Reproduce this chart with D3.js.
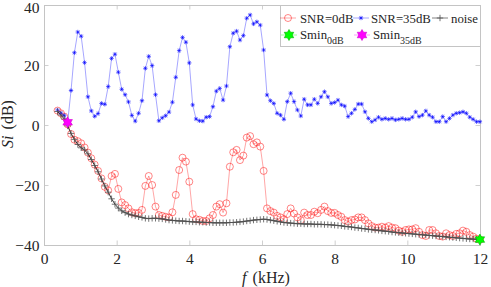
<!DOCTYPE html>
<html><head><meta charset="utf-8">
<script src="https://cdn.jsdelivr.net/npm/d3@7"></script>
<style>
body{margin:0;background:#fff}
svg{display:block}
text{font-family:"Liberation Serif","DejaVu Serif",serif;fill:#262626}
</style>
</head><body>
<svg id="c" width="491" height="287"></svg>
<script>
// frequency bins (kHz)
const freq = [0.372,0.465,0.558,0.651,0.744,0.837,0.930,1.023,1.116,1.209,1.302,1.395,1.488,1.581,1.674,1.767,1.860,1.953,2.046,2.139,2.232,2.325,2.418,2.511,2.604,2.697,2.790,2.883,2.976,3.069,3.162,3.255,3.348,3.441,3.534,3.627,3.720,3.813,3.906,3.999,4.092,4.185,4.278,4.371,4.464,4.557,4.650,4.743,4.836,4.929,5.022,5.115,5.208,5.301,5.394,5.487,5.580,5.673,5.766,5.859,5.952,6.045,6.138,6.231,6.324,6.417,6.510,6.603,6.696,6.789,6.882,6.975,7.068,7.161,7.254,7.347,7.440,7.533,7.626,7.719,7.812,7.905,7.998,8.091,8.184,8.277,8.370,8.463,8.556,8.649,8.742,8.835,8.928,9.021,9.114,9.207,9.300,9.393,9.486,9.579,9.672,9.765,9.858,9.951,10.044,10.137,10.230,10.323,10.416,10.509,10.602,10.695,10.788,10.881,10.974,11.067,11.160,11.253,11.346,11.439,11.532,11.625,11.718,11.811,11.904,11.997];

const snr0 = [4.8,3.9,2.8,0.2,-3.0,-4.9,-5.4,-6.1,-7.5,-9.2,-11.1,-13.2,-15.3,-17.8,-20.6,-21.8,-17.0,-16.3,-21.3,-25.8,-26.7,-27.8,-29.1,-29.4,-29.3,-28.3,-20.3,-17.0,-20.0,-27.2,-30.0,-30.3,-30.6,-30.8,-29.1,-23.3,-15.0,-10.9,-12.2,-18.9,-29.7,-31.4,-31.6,-32.0,-32.0,-31.1,-30.0,-27.2,-26.4,-29.2,-26.1,-13.9,-9.1,-8.3,-11.7,-10.2,-4.2,-3.7,-6.4,-5.8,-7.2,-15.3,
-27.8,-28.7,-29.2,-30.3,-30.8,-31.4,-29.7,-27.8,-29.5,-30.8,-31.7,-29.2,-30.0,-30.0,-28.9,-29.4,-28.3,-27.2,-28.7,-29.3,-29.3,-30.0,-30.6,-31.7,-32.2,-31.7,-31.5,-30.8,-30.8,-31.7,-32.8,-33.7,-34.2,-34.2,-33.9,-34.2,-33.7,-34.2,-34.4,-35.2,-35.6,-35.0,-34.8,-34.8,-34.4,-35.6,-36.7,-37.0,-35.0,-35.0,-36.1,-37.0,-37.2,-36.1,-36.7,-37.0,-36.3,-36.1,-35.2,-35.6,-36.7,-37.2,-37.9,-38.2];

const snr35 = [5.0,4.0,3.2,0.9,11.5,24.1,31.0,29.6,20.8,9.4,4.7,2.9,3.8,7.2,6.9,12.8,22.2,23.6,17.6,11.9,10.1,7.7,3.2,1.3,3.9,8.1,18.9,22.9,19.8,10.1,1.4,2.4,3.1,4.3,7.6,15.9,24.8,29.2,27.6,20.7,6.7,2.0,1.4,1.3,2.6,2.8,6.1,11.3,12.2,8.3,13.0,26.1,30.6,31.3,28.3,29.8,35.6,36.7,33.7,34.4,33.3,25.0,
10.0,8.1,7.2,3.9,3.3,1.9,7.8,10.6,7.8,5.0,3.0,8.6,6.7,6.7,8.6,7.2,9.4,11.1,9.4,7.2,7.5,8.3,6.7,6.3,2.8,3.9,5.2,7.0,7.0,4.4,2.2,1.1,1.7,2.6,1.9,2.2,1.9,2.2,1.7,1.9,2.2,1.9,1.9,2.6,4.4,2.8,3.3,4.7,3.3,2.6,1.1,1.1,2.8,1.1,2.2,3.3,3.9,4.1,4.4,3.9,2.6,1.9,1.1,1.1];

const noise = [4.5,3.3,2.0,-0.3,-2.8,-4.8,-6.5,-7.6,-8.3,-9.6,-11.5,-13.5,-15.6,-18.0,-20.3,-22.4,-24.6,-26.4,-27.7,-28.6,-29.2,-29.7,-30.0,-30.3,-30.6,-30.8,-31.1,-31.2,-31.1,-31.1,-31.2,-31.3,-31.5,-31.7,-31.8,-31.9,-32.0,-32.0,-32.1,-32.2,
-32.3,-32.3,-32.4,-32.4,-32.5,-32.5,-32.6,-32.6,-32.6,-32.6,-32.6,-32.5,-32.5,-32.4,-32.3,-32.2,-32.0,-31.9,-31.7,-31.6,-31.5,-31.4,-31.5,-31.7,-31.9,-32.1,-32.3,-32.5,-32.6,-32.7,-32.8,-32.9,-32.9,-33.0,-33.0,-33.0,-33.1,-33.1,-33.1,-33.2,-33.2,-33.3,-33.4,-33.5,-33.6,-33.8,-33.9,-34.0,-34.2,-34.3,-34.5,-34.6,-34.8,-34.9,-35.0,-35.1,-35.3,-35.4,-35.5,-35.7,-35.8,-35.9,-36.0,-36.1,-36.2,-36.3,-36.4,-36.5,-36.6,-36.7,-36.8,-36.9,-37.0,-37.1,-37.2,-37.3,-37.4,-37.5,-37.6,-37.7,-37.8,-37.9,-38.0,-38.0,-38.1,-38.3];

const smin0 = [11.997, -38.2];
const smin35 = [0.651, 0.9];

const xTicks = [0,2,4,6,8,10,12];
const yTicks = [-40,-20,0,20,40];

const svg = d3.select('#c');
const L=44, R=480, T=5, B=245;
const x = d3.scaleLinear().domain([0,12]).range([L,R]);
const y = d3.scaleLinear().domain([-40,40]).range([B,T]);
const boxColor = '#c4c4c4';
const serif = '"Liberation Serif","DejaVu Serif",serif';

// axes
const styleAxis = g => {
  g.attr('font-family', serif);
  g.select('.domain').remove();
  g.selectAll('.tick line').attr('stroke',boxColor).attr('stroke-width',0.8);
  g.selectAll('.tick text').attr('fill','#262626').style('font-size','15.5px').style('font-family',serif);
};
svg.append('g').attr('transform',`translate(0,${B})`)
  .call(d3.axisBottom(x).tickValues(xTicks).tickSizeInner(-4.5).tickSizeOuter(0).tickPadding(8)).call(styleAxis);
svg.append('g').attr('transform',`translate(0,${T})`)
  .call(d3.axisTop(x).tickValues(xTicks).tickSizeInner(-4.5).tickSizeOuter(0).tickFormat('')).call(styleAxis);
const yAx = svg.append('g').attr('transform',`translate(${L},0)`)
  .call(d3.axisLeft(y).tickValues(yTicks).tickSizeInner(-4.5).tickSizeOuter(0).tickPadding(4.5)).call(styleAxis);
yAx.selectAll('.tick text').attr('dy', d => d === 40 ? '0.5em' : '0.36em');
svg.append('g').attr('transform',`translate(${R},0)`)
  .call(d3.axisRight(y).tickValues(yTicks).tickSizeInner(-4.5).tickSizeOuter(0).tickFormat('')).call(styleAxis);
svg.append('rect').attr('x',L+0.5).attr('y',T+0.5).attr('width',R-L).attr('height',B-T)
  .attr('fill','none').attr('stroke',boxColor).attr('stroke-width',1);

// marker paths
const starPath = s => { const a=s*0.72; return `M${-s},0H${s}M0,${-s}V${s}M${-a},${-a}L${a},${a}M${-a},${a}L${a},${-a}`; };
const plusPath = s => `M${-s},0H${s}M0,${-s}V${s}`;
const hexPath = Rr => { const p=[]; for(let i=0;i<12;i++){ const r=i%2===0?Rr:Rr/Math.sqrt(3); const a=-Math.PI/2+i*Math.PI/6; p.push([(r*Math.cos(a)).toFixed(2),(r*Math.sin(a)).toFixed(2)]);} return 'M'+p.map(q=>q.join(',')).join('L')+'Z'; };

const line = d3.line().x(d=>x(d[0])).y(d=>y(d[1]));
const pts = vals => freq.map((f,i)=>[f,vals[i]]);

// SNR=0dB
const g0 = svg.append('g');
g0.append('path').attr('d',line(pts(snr0))).attr('fill','none').attr('stroke','#ff0000').attr('stroke-opacity',0.35).attr('stroke-width',1);
g0.selectAll('circle').data(pts(snr0)).join('circle').attr('cx',d=>x(d[0])).attr('cy',d=>y(d[1])).attr('r',3.5)
  .attr('fill','none').attr('stroke','#ff0000').attr('stroke-opacity',0.6).attr('stroke-width',0.8);

// SNR=35dB
const g35 = svg.append('g');
g35.append('path').attr('d',line(pts(snr35))).attr('fill','none').attr('stroke','#0000ff').attr('stroke-opacity',0.35).attr('stroke-width',1);
g35.selectAll('path.m').data(pts(snr35)).join('path').attr('class','m').attr('d',starPath(2.2))
  .attr('transform',d=>`translate(${x(d[0])},${y(d[1])})`).attr('stroke','#0000ff').attr('stroke-opacity',0.75).attr('stroke-width',0.8).attr('fill','none');

// noise
const gn = svg.append('g');
gn.append('path').attr('d',line(pts(noise))).attr('fill','none').attr('stroke','#303030').attr('stroke-width',1);
gn.selectAll('path.m').data(pts(noise)).join('path').attr('class','m').attr('d',plusPath(3.2))
  .attr('transform',d=>`translate(${x(d[0])},${y(d[1])})`).attr('stroke','#505050').attr('stroke-width',0.8).attr('fill','none');

// minima
svg.append('path').attr('d',hexPath(5.5)).attr('transform',`translate(${x(smin0[0])},${y(smin0[1])})`)
  .attr('fill','#00ff00').attr('stroke','#00b400').attr('stroke-width',0.6);
svg.append('path').attr('d',hexPath(5.5)).attr('transform',`translate(${x(smin35[0])},${y(smin35[1])})`)
  .attr('fill','#ff00ff').attr('stroke','#d000d0').attr('stroke-width',0.6);

// legend
const lg = svg.append('g');
lg.append('rect').attr('x',280.5).attr('y',5.5).attr('width',200).attr('height',41).attr('fill','#fff').attr('stroke',boxColor).attr('stroke-width',1);
const fs = '12.8px';
function sample(cx, cy, color, op){ lg.append('line').attr('x1',cx-8).attr('x2',cx+8).attr('y1',cy).attr('y2',cy).attr('stroke',color).attr('stroke-opacity',op).attr('stroke-width',1); }
// row 1
sample(288,18,'#ff0000',0.35);
lg.append('circle').attr('cx',288).attr('cy',18).attr('r',3.5).attr('fill','none').attr('stroke','#ff0000').attr('stroke-opacity',0.6).attr('stroke-width',0.8);
lg.append('text').attr('x',300).attr('y',22.5).style('font-size',fs).text('SNR=0dB');
sample(361,18,'#0000ff',0.35);
lg.append('path').attr('d',starPath(2.2)).attr('transform','translate(361,18)').attr('stroke','#0000ff').attr('stroke-opacity',0.75).attr('stroke-width',0.8);
lg.append('text').attr('x',371).attr('y',22.5).style('font-size',fs).text('SNR=35dB');
sample(440,18,'#303030',0.6);
lg.append('path').attr('d',plusPath(3.2)).attr('transform','translate(440,18)').attr('stroke','#505050').attr('stroke-width',0.8);
lg.append('text').attr('x',451).attr('y',22.5).style('font-size',fs).text('noise');
// row 2
sample(289,35,'#00ff00',0.4);
lg.append('path').attr('d',hexPath(5.5)).attr('transform','translate(289,35)').attr('fill','#00ff00').attr('stroke','#00b400').attr('stroke-width',0.6);
const t1 = lg.append('text').attr('x',300).attr('y',38.5).style('font-size',fs);
t1.append('tspan').text('Smin');
t1.append('tspan').attr('dy',5).style('font-size','10px').text('0dB');
sample(362,35,'#ff00ff',0.4);
lg.append('path').attr('d',hexPath(5.5)).attr('transform','translate(362,35)').attr('fill','#ff00ff').attr('stroke','#d000d0').attr('stroke-width',0.6);
const t2 = lg.append('text').attr('x',373).attr('y',38.5).style('font-size',fs);
t2.append('tspan').text('Smin');
t2.append('tspan').attr('dy',5).style('font-size','10px').text('35dB');

// axis labels
const xl = svg.append('text').attr('x',266).attr('y',283).attr('text-anchor','middle').style('font-size','16px');
xl.append('tspan').style('font-style','italic').text('f');
xl.append('tspan').attr('dx',6).text('(kHz)');
const yl = svg.append('text').attr('transform','translate(13,124) rotate(-90)').attr('text-anchor','middle').style('font-size','16px');
yl.append('tspan').style('font-style','italic').text('Si');
yl.append('tspan').attr('dx',6).text('(dB)');
</script>
</body></html>
